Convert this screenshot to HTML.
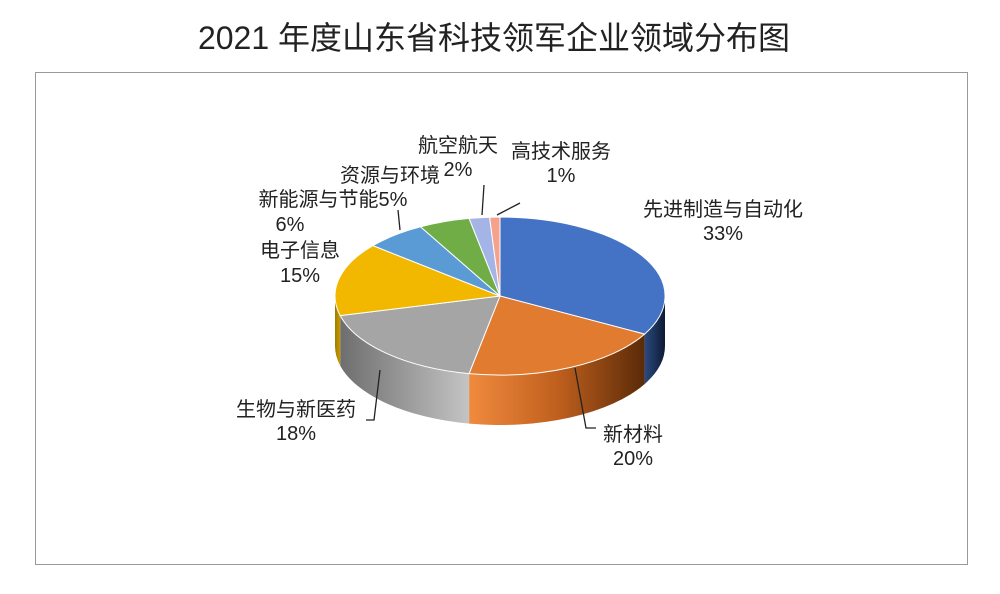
<!DOCTYPE html>
<html><head><meta charset="utf-8">
<style>
html,body{margin:0;padding:0;background:#fff;}
svg text{font-family:"Liberation Sans","Noto Sans CJK SC",sans-serif;fill:#222;}
</style></head>
<body>
<svg width="1000" height="589" viewBox="0 0 1000 589" xmlns="http://www.w3.org/2000/svg">
<defs>
<linearGradient id="gBlue" x1="0" x2="1" y1="0" y2="0">
<stop offset="0" stop-color="#2b4a80"/><stop offset="1" stop-color="#0d1a33"/></linearGradient>
<linearGradient id="gOr" gradientUnits="userSpaceOnUse" x1="469" x2="645" y1="0" y2="0">
<stop offset="0" stop-color="#f08a3e"/><stop offset="0.5" stop-color="#c0601e"/><stop offset="1" stop-color="#5a2a08"/></linearGradient>
<linearGradient id="gGr" gradientUnits="userSpaceOnUse" x1="340" x2="469" y1="0" y2="0">
<stop offset="0" stop-color="#6e6e6e"/><stop offset="1" stop-color="#c4c4c4"/></linearGradient>
<linearGradient id="gYe" x1="0" x2="1"><stop offset="0" stop-color="#a07a00"/><stop offset="1" stop-color="#c89a00"/></linearGradient>
</defs>
<rect width="1000" height="589" fill="#fff"/>
<rect x="35.5" y="72.5" width="932" height="492" fill="#fff" stroke="#999" stroke-width="1"/>
<text x="494" y="49" font-size="32" text-anchor="middle">2021 年度山东省科技领军企业领域分布图</text>

<path d="M665,296 A165,79 0 0 1 644.6,334.1 L644.6,384.1 A165,79 0 0 0 665,346 Z" fill="url(#gBlue)"/>
<path d="M644.6,334.1 A165,79 0 0 1 469.1,373.6 L469.1,423.6 A165,79 0 0 0 644.6,384.1 Z" fill="url(#gOr)"/>
<path d="M469.1,373.6 A165,79 0 0 1 340.2,315.6 L340.2,365.6 A165,79 0 0 0 469.1,423.6 Z" fill="url(#gGr)"/>
<path d="M340.2,315.6 A165,79 0 0 1 335,296 L335,346 A165,79 0 0 0 340.2,365.6 Z" fill="url(#gYe)"/>

<g stroke="#fff" stroke-width="1">
<path d="M500,296 L500,217 A165,79 0 0 1 644.6,334.1 Z" fill="#4472c4"/>
<path d="M500,296 L644.6,334.1 A165,79 0 0 1 469.1,373.6 Z" fill="#e07b30"/>
<path d="M500,296 L469.1,373.6 A165,79 0 0 1 340.2,315.6 Z" fill="#a5a5a5"/>
<path d="M500,296 L340.2,315.6 A165,79 0 0 1 372.9,245.6 Z" fill="#f2b800"/>
<path d="M500,296 L372.9,245.6 A165,79 0 0 1 420.5,226.8 Z" fill="#5b9bd5"/>
<path d="M500,296 L420.5,226.8 A165,79 0 0 1 469.1,218.4 Z" fill="#70ad47"/>
<path d="M500,296 L469.1,218.4 A165,79 0 0 1 489.6,217.2 Z" fill="#a5b4e6"/>
<path d="M500,296 L489.6,217.2 A165,79 0 0 1 500,217 Z" fill="#f4a28c"/>
</g>

<g stroke="#222" stroke-width="1.3" fill="none">
<polyline points="575,368 586,428 596,428"/>
<polyline points="380,370 374,420 366,420"/>
<polyline points="398,210 400,230"/>
<polyline points="484,185 482,215"/>
<polyline points="520,203 497,215"/>
</g>

<g font-size="20">
<text x="458" y="152" text-anchor="middle">航空航天</text>
<text x="458" y="176" text-anchor="middle">2%</text>
<text x="561" y="158" text-anchor="middle">高技术服务</text>
<text x="561" y="182" text-anchor="middle">1%</text>
<text x="723" y="216" text-anchor="middle">先进制造与自动化</text>
<text x="723" y="240" text-anchor="middle">33%</text>
<text x="390" y="182" text-anchor="middle">资源与环境</text>
<text x="333" y="206" text-anchor="middle">新能源与节能5%</text>
<text x="290" y="231" text-anchor="middle">6%</text>
<text x="300" y="257" text-anchor="middle">电子信息</text>
<text x="300" y="282" text-anchor="middle">15%</text>
<text x="296" y="416" text-anchor="middle">生物与新医药</text>
<text x="296" y="440" text-anchor="middle">18%</text>
<text x="633" y="441" text-anchor="middle">新材料</text>
<text x="633" y="465" text-anchor="middle">20%</text>
</g>
</svg>
</body></html>
